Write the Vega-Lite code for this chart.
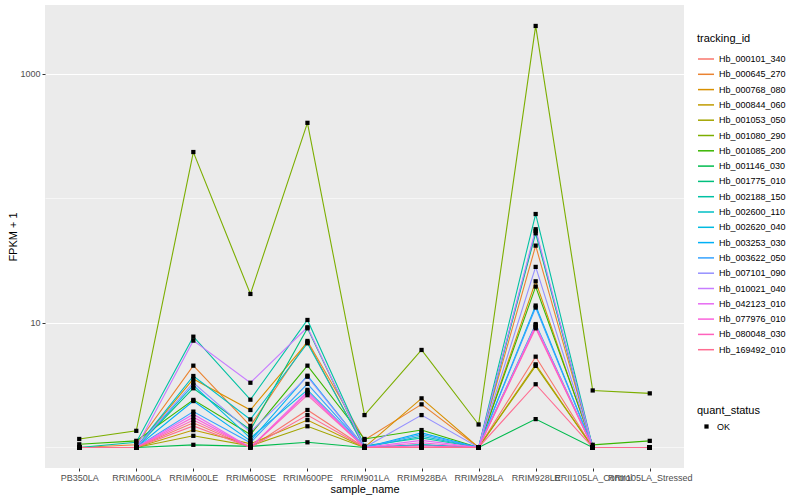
{
"$schema": "https://vega.github.io/schema/vega-lite/v6.json",
"autosize": {"type": "none"},
"width": 639,
"height": 463,
"padding": {"left": 45, "top": 5, "right": 116, "bottom": 32},
"background": "white",
"config": {
  "view": {"fill": "#EBEBEB", "stroke": null},
  "font": "Liberation Sans",
  "axis": {"domain": false, "tickColor": "#333333", "tickSize": 3, "tickWidth": 1, "labelColor": "#4D4D4D", "labelFontSize": 9, "labelPadding": 2, "titleFontSize": 11, "titleFontWeight": "normal", "titleColor": "black", "gridColor": "white", "gridWidth": 1.1},
  "legend": {"titleFontSize": 11, "titleFontWeight": "normal", "titleColor": "black", "labelFontSize": 9, "labelColor": "black", "padding": 0, "rowPadding": 1.3, "labelOffset": 4, "titlePadding": 6}
},
"data": {"values": [
{"tracking_id":"Hb_000101_340","sample_name":"PB350LA","fpkm_plus_1":1,"quant_status":"OK"},
{"tracking_id":"Hb_000101_340","sample_name":"RRIM600LA","fpkm_plus_1":1,"quant_status":"OK"},
{"tracking_id":"Hb_000101_340","sample_name":"RRIM600LE","fpkm_plus_1":1.58,"quant_status":"OK"},
{"tracking_id":"Hb_000101_340","sample_name":"RRIM600SE","fpkm_plus_1":1,"quant_status":"OK"},
{"tracking_id":"Hb_000101_340","sample_name":"RRIM600PE","fpkm_plus_1":2.0,"quant_status":"OK"},
{"tracking_id":"Hb_000101_340","sample_name":"RRIM901LA","fpkm_plus_1":1,"quant_status":"OK"},
{"tracking_id":"Hb_000101_340","sample_name":"RRIM928BA","fpkm_plus_1":1,"quant_status":"OK"},
{"tracking_id":"Hb_000101_340","sample_name":"RRIM928LA","fpkm_plus_1":1,"quant_status":"OK"},
{"tracking_id":"Hb_000101_340","sample_name":"RRIM928LE","fpkm_plus_1":5.36,"quant_status":"OK"},
{"tracking_id":"Hb_000101_340","sample_name":"RRII105LA_Control","fpkm_plus_1":1,"quant_status":"OK"},
{"tracking_id":"Hb_000101_340","sample_name":"RRII105LA_Stressed","fpkm_plus_1":1,"quant_status":"OK"},
{"tracking_id":"Hb_000645_270","sample_name":"PB350LA","fpkm_plus_1":1,"quant_status":"OK"},
{"tracking_id":"Hb_000645_270","sample_name":"RRIM600LA","fpkm_plus_1":1.05,"quant_status":"OK"},
{"tracking_id":"Hb_000645_270","sample_name":"RRIM600LE","fpkm_plus_1":4.54,"quant_status":"OK"},
{"tracking_id":"Hb_000645_270","sample_name":"RRIM600SE","fpkm_plus_1":1.49,"quant_status":"OK"},
{"tracking_id":"Hb_000645_270","sample_name":"RRIM600PE","fpkm_plus_1":7.17,"quant_status":"OK"},
{"tracking_id":"Hb_000645_270","sample_name":"RRIM901LA","fpkm_plus_1":1.15,"quant_status":"OK"},
{"tracking_id":"Hb_000645_270","sample_name":"RRIM928BA","fpkm_plus_1":2.22,"quant_status":"OK"},
{"tracking_id":"Hb_000645_270","sample_name":"RRIM928LA","fpkm_plus_1":1,"quant_status":"OK"},
{"tracking_id":"Hb_000645_270","sample_name":"RRIM928LE","fpkm_plus_1":41.8,"quant_status":"OK"},
{"tracking_id":"Hb_000645_270","sample_name":"RRII105LA_Control","fpkm_plus_1":1,"quant_status":"OK"},
{"tracking_id":"Hb_000645_270","sample_name":"RRII105LA_Stressed","fpkm_plus_1":1,"quant_status":"OK"},
{"tracking_id":"Hb_000768_080","sample_name":"PB350LA","fpkm_plus_1":1,"quant_status":"OK"},
{"tracking_id":"Hb_000768_080","sample_name":"RRIM600LA","fpkm_plus_1":1,"quant_status":"OK"},
{"tracking_id":"Hb_000768_080","sample_name":"RRIM600LE","fpkm_plus_1":3.55,"quant_status":"OK"},
{"tracking_id":"Hb_000768_080","sample_name":"RRIM600SE","fpkm_plus_1":2.0,"quant_status":"OK"},
{"tracking_id":"Hb_000768_080","sample_name":"RRIM600PE","fpkm_plus_1":7.0,"quant_status":"OK"},
{"tracking_id":"Hb_000768_080","sample_name":"RRIM901LA","fpkm_plus_1":1,"quant_status":"OK"},
{"tracking_id":"Hb_000768_080","sample_name":"RRIM928BA","fpkm_plus_1":2.48,"quant_status":"OK"},
{"tracking_id":"Hb_000768_080","sample_name":"RRIM928LA","fpkm_plus_1":1,"quant_status":"OK"},
{"tracking_id":"Hb_000768_080","sample_name":"RRIM928LE","fpkm_plus_1":21.6,"quant_status":"OK"},
{"tracking_id":"Hb_000768_080","sample_name":"RRII105LA_Control","fpkm_plus_1":1,"quant_status":"OK"},
{"tracking_id":"Hb_000768_080","sample_name":"RRII105LA_Stressed","fpkm_plus_1":1,"quant_status":"OK"},
{"tracking_id":"Hb_000844_060","sample_name":"PB350LA","fpkm_plus_1":1,"quant_status":"OK"},
{"tracking_id":"Hb_000844_060","sample_name":"RRIM600LA","fpkm_plus_1":1,"quant_status":"OK"},
{"tracking_id":"Hb_000844_060","sample_name":"RRIM600LE","fpkm_plus_1":1.38,"quant_status":"OK"},
{"tracking_id":"Hb_000844_060","sample_name":"RRIM600SE","fpkm_plus_1":1.07,"quant_status":"OK"},
{"tracking_id":"Hb_000844_060","sample_name":"RRIM600PE","fpkm_plus_1":1.66,"quant_status":"OK"},
{"tracking_id":"Hb_000844_060","sample_name":"RRIM901LA","fpkm_plus_1":1,"quant_status":"OK"},
{"tracking_id":"Hb_000844_060","sample_name":"RRIM928BA","fpkm_plus_1":1,"quant_status":"OK"},
{"tracking_id":"Hb_000844_060","sample_name":"RRIM928LA","fpkm_plus_1":1,"quant_status":"OK"},
{"tracking_id":"Hb_000844_060","sample_name":"RRIM928LE","fpkm_plus_1":4.65,"quant_status":"OK"},
{"tracking_id":"Hb_000844_060","sample_name":"RRII105LA_Control","fpkm_plus_1":1,"quant_status":"OK"},
{"tracking_id":"Hb_000844_060","sample_name":"RRII105LA_Stressed","fpkm_plus_1":1,"quant_status":"OK"},
{"tracking_id":"Hb_001053_050","sample_name":"PB350LA","fpkm_plus_1":1,"quant_status":"OK"},
{"tracking_id":"Hb_001053_050","sample_name":"RRIM600LA","fpkm_plus_1":1,"quant_status":"OK"},
{"tracking_id":"Hb_001053_050","sample_name":"RRIM600LE","fpkm_plus_1":1.24,"quant_status":"OK"},
{"tracking_id":"Hb_001053_050","sample_name":"RRIM600SE","fpkm_plus_1":1.03,"quant_status":"OK"},
{"tracking_id":"Hb_001053_050","sample_name":"RRIM600PE","fpkm_plus_1":1.48,"quant_status":"OK"},
{"tracking_id":"Hb_001053_050","sample_name":"RRIM901LA","fpkm_plus_1":1,"quant_status":"OK"},
{"tracking_id":"Hb_001053_050","sample_name":"RRIM928BA","fpkm_plus_1":1,"quant_status":"OK"},
{"tracking_id":"Hb_001053_050","sample_name":"RRIM928LA","fpkm_plus_1":1,"quant_status":"OK"},
{"tracking_id":"Hb_001053_050","sample_name":"RRIM928LE","fpkm_plus_1":4.52,"quant_status":"OK"},
{"tracking_id":"Hb_001053_050","sample_name":"RRII105LA_Control","fpkm_plus_1":1,"quant_status":"OK"},
{"tracking_id":"Hb_001053_050","sample_name":"RRII105LA_Stressed","fpkm_plus_1":1,"quant_status":"OK"},
{"tracking_id":"Hb_001080_290","sample_name":"PB350LA","fpkm_plus_1":1.17,"quant_status":"OK"},
{"tracking_id":"Hb_001080_290","sample_name":"RRIM600LA","fpkm_plus_1":1.36,"quant_status":"OK"},
{"tracking_id":"Hb_001080_290","sample_name":"RRIM600LE","fpkm_plus_1":236,"quant_status":"OK"},
{"tracking_id":"Hb_001080_290","sample_name":"RRIM600SE","fpkm_plus_1":17.1,"quant_status":"OK"},
{"tracking_id":"Hb_001080_290","sample_name":"RRIM600PE","fpkm_plus_1":405,"quant_status":"OK"},
{"tracking_id":"Hb_001080_290","sample_name":"RRIM901LA","fpkm_plus_1":1.82,"quant_status":"OK"},
{"tracking_id":"Hb_001080_290","sample_name":"RRIM928BA","fpkm_plus_1":6.07,"quant_status":"OK"},
{"tracking_id":"Hb_001080_290","sample_name":"RRIM928LA","fpkm_plus_1":1.53,"quant_status":"OK"},
{"tracking_id":"Hb_001080_290","sample_name":"RRIM928LE","fpkm_plus_1":2430,"quant_status":"OK"},
{"tracking_id":"Hb_001080_290","sample_name":"RRII105LA_Control","fpkm_plus_1":2.87,"quant_status":"OK"},
{"tracking_id":"Hb_001080_290","sample_name":"RRII105LA_Stressed","fpkm_plus_1":2.72,"quant_status":"OK"},
{"tracking_id":"Hb_001085_200","sample_name":"PB350LA","fpkm_plus_1":1.06,"quant_status":"OK"},
{"tracking_id":"Hb_001085_200","sample_name":"RRIM600LA","fpkm_plus_1":1.13,"quant_status":"OK"},
{"tracking_id":"Hb_001085_200","sample_name":"RRIM600LE","fpkm_plus_1":2.41,"quant_status":"OK"},
{"tracking_id":"Hb_001085_200","sample_name":"RRIM600SE","fpkm_plus_1":1.27,"quant_status":"OK"},
{"tracking_id":"Hb_001085_200","sample_name":"RRIM600PE","fpkm_plus_1":4.54,"quant_status":"OK"},
{"tracking_id":"Hb_001085_200","sample_name":"RRIM901LA","fpkm_plus_1":1.17,"quant_status":"OK"},
{"tracking_id":"Hb_001085_200","sample_name":"RRIM928BA","fpkm_plus_1":1.38,"quant_status":"OK"},
{"tracking_id":"Hb_001085_200","sample_name":"RRIM928LA","fpkm_plus_1":1,"quant_status":"OK"},
{"tracking_id":"Hb_001085_200","sample_name":"RRIM928LE","fpkm_plus_1":19.6,"quant_status":"OK"},
{"tracking_id":"Hb_001085_200","sample_name":"RRII105LA_Control","fpkm_plus_1":1.05,"quant_status":"OK"},
{"tracking_id":"Hb_001085_200","sample_name":"RRII105LA_Stressed","fpkm_plus_1":1.13,"quant_status":"OK"},
{"tracking_id":"Hb_001146_030","sample_name":"PB350LA","fpkm_plus_1":1,"quant_status":"OK"},
{"tracking_id":"Hb_001146_030","sample_name":"RRIM600LA","fpkm_plus_1":1,"quant_status":"OK"},
{"tracking_id":"Hb_001146_030","sample_name":"RRIM600LE","fpkm_plus_1":1.05,"quant_status":"OK"},
{"tracking_id":"Hb_001146_030","sample_name":"RRIM600SE","fpkm_plus_1":1.02,"quant_status":"OK"},
{"tracking_id":"Hb_001146_030","sample_name":"RRIM600PE","fpkm_plus_1":1.1,"quant_status":"OK"},
{"tracking_id":"Hb_001146_030","sample_name":"RRIM901LA","fpkm_plus_1":1,"quant_status":"OK"},
{"tracking_id":"Hb_001146_030","sample_name":"RRIM928BA","fpkm_plus_1":1,"quant_status":"OK"},
{"tracking_id":"Hb_001146_030","sample_name":"RRIM928LA","fpkm_plus_1":1,"quant_status":"OK"},
{"tracking_id":"Hb_001146_030","sample_name":"RRIM928LE","fpkm_plus_1":1.69,"quant_status":"OK"},
{"tracking_id":"Hb_001146_030","sample_name":"RRII105LA_Control","fpkm_plus_1":1,"quant_status":"OK"},
{"tracking_id":"Hb_001146_030","sample_name":"RRII105LA_Stressed","fpkm_plus_1":1,"quant_status":"OK"},
{"tracking_id":"Hb_001775_010","sample_name":"PB350LA","fpkm_plus_1":1,"quant_status":"OK"},
{"tracking_id":"Hb_001775_010","sample_name":"RRIM600LA","fpkm_plus_1":1,"quant_status":"OK"},
{"tracking_id":"Hb_001775_010","sample_name":"RRIM600LE","fpkm_plus_1":2.99,"quant_status":"OK"},
{"tracking_id":"Hb_001775_010","sample_name":"RRIM600SE","fpkm_plus_1":1.38,"quant_status":"OK"},
{"tracking_id":"Hb_001775_010","sample_name":"RRIM600PE","fpkm_plus_1":9.06,"quant_status":"OK"},
{"tracking_id":"Hb_001775_010","sample_name":"RRIM901LA","fpkm_plus_1":1,"quant_status":"OK"},
{"tracking_id":"Hb_001775_010","sample_name":"RRIM928BA","fpkm_plus_1":1.05,"quant_status":"OK"},
{"tracking_id":"Hb_001775_010","sample_name":"RRIM928LA","fpkm_plus_1":1,"quant_status":"OK"},
{"tracking_id":"Hb_001775_010","sample_name":"RRIM928LE","fpkm_plus_1":52.5,"quant_status":"OK"},
{"tracking_id":"Hb_001775_010","sample_name":"RRII105LA_Control","fpkm_plus_1":1,"quant_status":"OK"},
{"tracking_id":"Hb_001775_010","sample_name":"RRII105LA_Stressed","fpkm_plus_1":1,"quant_status":"OK"},
{"tracking_id":"Hb_002188_150","sample_name":"PB350LA","fpkm_plus_1":1,"quant_status":"OK"},
{"tracking_id":"Hb_002188_150","sample_name":"RRIM600LA","fpkm_plus_1":1.1,"quant_status":"OK"},
{"tracking_id":"Hb_002188_150","sample_name":"RRIM600LE","fpkm_plus_1":7.76,"quant_status":"OK"},
{"tracking_id":"Hb_002188_150","sample_name":"RRIM600SE","fpkm_plus_1":2.42,"quant_status":"OK"},
{"tracking_id":"Hb_002188_150","sample_name":"RRIM600PE","fpkm_plus_1":10.57,"quant_status":"OK"},
{"tracking_id":"Hb_002188_150","sample_name":"RRIM901LA","fpkm_plus_1":1.03,"quant_status":"OK"},
{"tracking_id":"Hb_002188_150","sample_name":"RRIM928BA","fpkm_plus_1":1.19,"quant_status":"OK"},
{"tracking_id":"Hb_002188_150","sample_name":"RRIM928LA","fpkm_plus_1":1,"quant_status":"OK"},
{"tracking_id":"Hb_002188_150","sample_name":"RRIM928LE","fpkm_plus_1":75.0,"quant_status":"OK"},
{"tracking_id":"Hb_002188_150","sample_name":"RRII105LA_Control","fpkm_plus_1":1,"quant_status":"OK"},
{"tracking_id":"Hb_002188_150","sample_name":"RRII105LA_Stressed","fpkm_plus_1":1,"quant_status":"OK"},
{"tracking_id":"Hb_002600_110","sample_name":"PB350LA","fpkm_plus_1":1,"quant_status":"OK"},
{"tracking_id":"Hb_002600_110","sample_name":"RRIM600LA","fpkm_plus_1":1,"quant_status":"OK"},
{"tracking_id":"Hb_002600_110","sample_name":"RRIM600LE","fpkm_plus_1":3.75,"quant_status":"OK"},
{"tracking_id":"Hb_002600_110","sample_name":"RRIM600SE","fpkm_plus_1":1.68,"quant_status":"OK"},
{"tracking_id":"Hb_002600_110","sample_name":"RRIM600PE","fpkm_plus_1":6.87,"quant_status":"OK"},
{"tracking_id":"Hb_002600_110","sample_name":"RRIM901LA","fpkm_plus_1":1,"quant_status":"OK"},
{"tracking_id":"Hb_002600_110","sample_name":"RRIM928BA","fpkm_plus_1":1.23,"quant_status":"OK"},
{"tracking_id":"Hb_002600_110","sample_name":"RRIM928LA","fpkm_plus_1":1,"quant_status":"OK"},
{"tracking_id":"Hb_002600_110","sample_name":"RRIM928LE","fpkm_plus_1":54.8,"quant_status":"OK"},
{"tracking_id":"Hb_002600_110","sample_name":"RRII105LA_Control","fpkm_plus_1":1,"quant_status":"OK"},
{"tracking_id":"Hb_002600_110","sample_name":"RRII105LA_Stressed","fpkm_plus_1":1,"quant_status":"OK"},
{"tracking_id":"Hb_002620_040","sample_name":"PB350LA","fpkm_plus_1":1,"quant_status":"OK"},
{"tracking_id":"Hb_002620_040","sample_name":"RRIM600LA","fpkm_plus_1":1,"quant_status":"OK"},
{"tracking_id":"Hb_002620_040","sample_name":"RRIM600LE","fpkm_plus_1":3.16,"quant_status":"OK"},
{"tracking_id":"Hb_002620_040","sample_name":"RRIM600SE","fpkm_plus_1":1.19,"quant_status":"OK"},
{"tracking_id":"Hb_002620_040","sample_name":"RRIM600PE","fpkm_plus_1":2.9,"quant_status":"OK"},
{"tracking_id":"Hb_002620_040","sample_name":"RRIM901LA","fpkm_plus_1":1,"quant_status":"OK"},
{"tracking_id":"Hb_002620_040","sample_name":"RRIM928BA","fpkm_plus_1":1.05,"quant_status":"OK"},
{"tracking_id":"Hb_002620_040","sample_name":"RRIM928LA","fpkm_plus_1":1,"quant_status":"OK"},
{"tracking_id":"Hb_002620_040","sample_name":"RRIM928LE","fpkm_plus_1":9.8,"quant_status":"OK"},
{"tracking_id":"Hb_002620_040","sample_name":"RRII105LA_Control","fpkm_plus_1":1,"quant_status":"OK"},
{"tracking_id":"Hb_002620_040","sample_name":"RRII105LA_Stressed","fpkm_plus_1":1,"quant_status":"OK"},
{"tracking_id":"Hb_003253_030","sample_name":"PB350LA","fpkm_plus_1":1,"quant_status":"OK"},
{"tracking_id":"Hb_003253_030","sample_name":"RRIM600LA","fpkm_plus_1":1,"quant_status":"OK"},
{"tracking_id":"Hb_003253_030","sample_name":"RRIM600LE","fpkm_plus_1":2.36,"quant_status":"OK"},
{"tracking_id":"Hb_003253_030","sample_name":"RRIM600SE","fpkm_plus_1":1.13,"quant_status":"OK"},
{"tracking_id":"Hb_003253_030","sample_name":"RRIM600PE","fpkm_plus_1":3.77,"quant_status":"OK"},
{"tracking_id":"Hb_003253_030","sample_name":"RRIM901LA","fpkm_plus_1":1,"quant_status":"OK"},
{"tracking_id":"Hb_003253_030","sample_name":"RRIM928BA","fpkm_plus_1":1.31,"quant_status":"OK"},
{"tracking_id":"Hb_003253_030","sample_name":"RRIM928LA","fpkm_plus_1":1,"quant_status":"OK"},
{"tracking_id":"Hb_003253_030","sample_name":"RRIM928LE","fpkm_plus_1":13.8,"quant_status":"OK"},
{"tracking_id":"Hb_003253_030","sample_name":"RRII105LA_Control","fpkm_plus_1":1,"quant_status":"OK"},
{"tracking_id":"Hb_003253_030","sample_name":"RRII105LA_Stressed","fpkm_plus_1":1,"quant_status":"OK"},
{"tracking_id":"Hb_003622_050","sample_name":"PB350LA","fpkm_plus_1":1,"quant_status":"OK"},
{"tracking_id":"Hb_003622_050","sample_name":"RRIM600LA","fpkm_plus_1":1,"quant_status":"OK"},
{"tracking_id":"Hb_003622_050","sample_name":"RRIM600LE","fpkm_plus_1":1.94,"quant_status":"OK"},
{"tracking_id":"Hb_003622_050","sample_name":"RRIM600SE","fpkm_plus_1":1.09,"quant_status":"OK"},
{"tracking_id":"Hb_003622_050","sample_name":"RRIM600PE","fpkm_plus_1":3.24,"quant_status":"OK"},
{"tracking_id":"Hb_003622_050","sample_name":"RRIM901LA","fpkm_plus_1":1,"quant_status":"OK"},
{"tracking_id":"Hb_003622_050","sample_name":"RRIM928BA","fpkm_plus_1":1.27,"quant_status":"OK"},
{"tracking_id":"Hb_003622_050","sample_name":"RRIM928LA","fpkm_plus_1":1,"quant_status":"OK"},
{"tracking_id":"Hb_003622_050","sample_name":"RRIM928LE","fpkm_plus_1":13.3,"quant_status":"OK"},
{"tracking_id":"Hb_003622_050","sample_name":"RRII105LA_Control","fpkm_plus_1":1,"quant_status":"OK"},
{"tracking_id":"Hb_003622_050","sample_name":"RRII105LA_Stressed","fpkm_plus_1":1,"quant_status":"OK"},
{"tracking_id":"Hb_007101_090","sample_name":"PB350LA","fpkm_plus_1":1,"quant_status":"OK"},
{"tracking_id":"Hb_007101_090","sample_name":"RRIM600LA","fpkm_plus_1":1,"quant_status":"OK"},
{"tracking_id":"Hb_007101_090","sample_name":"RRIM600LE","fpkm_plus_1":3.31,"quant_status":"OK"},
{"tracking_id":"Hb_007101_090","sample_name":"RRIM600SE","fpkm_plus_1":1.33,"quant_status":"OK"},
{"tracking_id":"Hb_007101_090","sample_name":"RRIM600PE","fpkm_plus_1":3.7,"quant_status":"OK"},
{"tracking_id":"Hb_007101_090","sample_name":"RRIM901LA","fpkm_plus_1":1,"quant_status":"OK"},
{"tracking_id":"Hb_007101_090","sample_name":"RRIM928BA","fpkm_plus_1":1.82,"quant_status":"OK"},
{"tracking_id":"Hb_007101_090","sample_name":"RRIM928LA","fpkm_plus_1":1,"quant_status":"OK"},
{"tracking_id":"Hb_007101_090","sample_name":"RRIM928LE","fpkm_plus_1":28.2,"quant_status":"OK"},
{"tracking_id":"Hb_007101_090","sample_name":"RRII105LA_Control","fpkm_plus_1":1,"quant_status":"OK"},
{"tracking_id":"Hb_007101_090","sample_name":"RRII105LA_Stressed","fpkm_plus_1":1,"quant_status":"OK"},
{"tracking_id":"Hb_010021_040","sample_name":"PB350LA","fpkm_plus_1":1,"quant_status":"OK"},
{"tracking_id":"Hb_010021_040","sample_name":"RRIM600LA","fpkm_plus_1":1,"quant_status":"OK"},
{"tracking_id":"Hb_010021_040","sample_name":"RRIM600LE","fpkm_plus_1":7.21,"quant_status":"OK"},
{"tracking_id":"Hb_010021_040","sample_name":"RRIM600SE","fpkm_plus_1":3.31,"quant_status":"OK"},
{"tracking_id":"Hb_010021_040","sample_name":"RRIM600PE","fpkm_plus_1":9.23,"quant_status":"OK"},
{"tracking_id":"Hb_010021_040","sample_name":"RRIM901LA","fpkm_plus_1":1,"quant_status":"OK"},
{"tracking_id":"Hb_010021_040","sample_name":"RRIM928BA","fpkm_plus_1":1,"quant_status":"OK"},
{"tracking_id":"Hb_010021_040","sample_name":"RRIM928LA","fpkm_plus_1":1,"quant_status":"OK"},
{"tracking_id":"Hb_010021_040","sample_name":"RRIM928LE","fpkm_plus_1":56.6,"quant_status":"OK"},
{"tracking_id":"Hb_010021_040","sample_name":"RRII105LA_Control","fpkm_plus_1":1,"quant_status":"OK"},
{"tracking_id":"Hb_010021_040","sample_name":"RRII105LA_Stressed","fpkm_plus_1":1,"quant_status":"OK"},
{"tracking_id":"Hb_042123_010","sample_name":"PB350LA","fpkm_plus_1":1,"quant_status":"OK"},
{"tracking_id":"Hb_042123_010","sample_name":"RRIM600LA","fpkm_plus_1":1,"quant_status":"OK"},
{"tracking_id":"Hb_042123_010","sample_name":"RRIM600LE","fpkm_plus_1":1.85,"quant_status":"OK"},
{"tracking_id":"Hb_042123_010","sample_name":"RRIM600SE","fpkm_plus_1":1,"quant_status":"OK"},
{"tracking_id":"Hb_042123_010","sample_name":"RRIM600PE","fpkm_plus_1":2.81,"quant_status":"OK"},
{"tracking_id":"Hb_042123_010","sample_name":"RRIM901LA","fpkm_plus_1":1,"quant_status":"OK"},
{"tracking_id":"Hb_042123_010","sample_name":"RRIM928BA","fpkm_plus_1":1.14,"quant_status":"OK"},
{"tracking_id":"Hb_042123_010","sample_name":"RRIM928LA","fpkm_plus_1":1,"quant_status":"OK"},
{"tracking_id":"Hb_042123_010","sample_name":"RRIM928LE","fpkm_plus_1":9.6,"quant_status":"OK"},
{"tracking_id":"Hb_042123_010","sample_name":"RRII105LA_Control","fpkm_plus_1":1,"quant_status":"OK"},
{"tracking_id":"Hb_042123_010","sample_name":"RRII105LA_Stressed","fpkm_plus_1":1,"quant_status":"OK"},
{"tracking_id":"Hb_077976_010","sample_name":"PB350LA","fpkm_plus_1":1,"quant_status":"OK"},
{"tracking_id":"Hb_077976_010","sample_name":"RRIM600LA","fpkm_plus_1":1,"quant_status":"OK"},
{"tracking_id":"Hb_077976_010","sample_name":"RRIM600LE","fpkm_plus_1":1.75,"quant_status":"OK"},
{"tracking_id":"Hb_077976_010","sample_name":"RRIM600SE","fpkm_plus_1":1,"quant_status":"OK"},
{"tracking_id":"Hb_077976_010","sample_name":"RRIM600PE","fpkm_plus_1":2.73,"quant_status":"OK"},
{"tracking_id":"Hb_077976_010","sample_name":"RRIM901LA","fpkm_plus_1":1,"quant_status":"OK"},
{"tracking_id":"Hb_077976_010","sample_name":"RRIM928BA","fpkm_plus_1":1.09,"quant_status":"OK"},
{"tracking_id":"Hb_077976_010","sample_name":"RRIM928LA","fpkm_plus_1":1,"quant_status":"OK"},
{"tracking_id":"Hb_077976_010","sample_name":"RRIM928LE","fpkm_plus_1":9.3,"quant_status":"OK"},
{"tracking_id":"Hb_077976_010","sample_name":"RRII105LA_Control","fpkm_plus_1":1,"quant_status":"OK"},
{"tracking_id":"Hb_077976_010","sample_name":"RRII105LA_Stressed","fpkm_plus_1":1,"quant_status":"OK"},
{"tracking_id":"Hb_080048_030","sample_name":"PB350LA","fpkm_plus_1":1,"quant_status":"OK"},
{"tracking_id":"Hb_080048_030","sample_name":"RRIM600LA","fpkm_plus_1":1,"quant_status":"OK"},
{"tracking_id":"Hb_080048_030","sample_name":"RRIM600LE","fpkm_plus_1":1.66,"quant_status":"OK"},
{"tracking_id":"Hb_080048_030","sample_name":"RRIM600SE","fpkm_plus_1":1,"quant_status":"OK"},
{"tracking_id":"Hb_080048_030","sample_name":"RRIM600PE","fpkm_plus_1":2.63,"quant_status":"OK"},
{"tracking_id":"Hb_080048_030","sample_name":"RRIM901LA","fpkm_plus_1":1,"quant_status":"OK"},
{"tracking_id":"Hb_080048_030","sample_name":"RRIM928BA","fpkm_plus_1":1.03,"quant_status":"OK"},
{"tracking_id":"Hb_080048_030","sample_name":"RRIM928LA","fpkm_plus_1":1,"quant_status":"OK"},
{"tracking_id":"Hb_080048_030","sample_name":"RRIM928LE","fpkm_plus_1":9.06,"quant_status":"OK"},
{"tracking_id":"Hb_080048_030","sample_name":"RRII105LA_Control","fpkm_plus_1":1,"quant_status":"OK"},
{"tracking_id":"Hb_080048_030","sample_name":"RRII105LA_Stressed","fpkm_plus_1":1,"quant_status":"OK"},
{"tracking_id":"Hb_169492_010","sample_name":"PB350LA","fpkm_plus_1":1,"quant_status":"OK"},
{"tracking_id":"Hb_169492_010","sample_name":"RRIM600LA","fpkm_plus_1":1,"quant_status":"OK"},
{"tracking_id":"Hb_169492_010","sample_name":"RRIM600LE","fpkm_plus_1":1.49,"quant_status":"OK"},
{"tracking_id":"Hb_169492_010","sample_name":"RRIM600SE","fpkm_plus_1":1,"quant_status":"OK"},
{"tracking_id":"Hb_169492_010","sample_name":"RRIM600PE","fpkm_plus_1":1.82,"quant_status":"OK"},
{"tracking_id":"Hb_169492_010","sample_name":"RRIM901LA","fpkm_plus_1":1,"quant_status":"OK"},
{"tracking_id":"Hb_169492_010","sample_name":"RRIM928BA","fpkm_plus_1":1,"quant_status":"OK"},
{"tracking_id":"Hb_169492_010","sample_name":"RRIM928LA","fpkm_plus_1":1,"quant_status":"OK"},
{"tracking_id":"Hb_169492_010","sample_name":"RRIM928LE","fpkm_plus_1":3.22,"quant_status":"OK"},
{"tracking_id":"Hb_169492_010","sample_name":"RRII105LA_Control","fpkm_plus_1":1,"quant_status":"OK"},
{"tracking_id":"Hb_169492_010","sample_name":"RRII105LA_Stressed","fpkm_plus_1":1,"quant_status":"OK"}
]},
"encoding": {
  "x": {"field": "sample_name", "type": "nominal",
        "sort": ["PB350LA","RRIM600LA","RRIM600LE","RRIM600SE","RRIM600PE","RRIM901LA","RRIM928BA","RRIM928LA","RRIM928LE","RRII105LA_Control","RRII105LA_Stressed"],
        "scale": {"type": "point", "padding": 0.6},
        "axis": {"labelAngle": 0, "title": "sample_name", "titlePadding": 1, "gridWidth": 1.1}},
  "y": {"field": "fpkm_plus_1", "type": "quantitative",
        "scale": {"type": "log", "domain": [0.684, 3580], "nice": false, "zero": false},
        "axis": {"title": "FPKM + 1", "titlePadding": 1, "values": [1, 10, 100, 1000], "format": "d",
                 "labelExpr": "datum.value == 10 || datum.value == 1000 ? datum.label : ''",
                 "gridWidth": {"condition": {"test": "datum.value == 10 || datum.value == 1000", "value": 1.1}, "value": 0.55},
                 "tickOpacity": {"condition": {"test": "datum.value == 10 || datum.value == 1000", "value": 1}, "value": 0}}}
},
"layer": [
  {"mark": {"type": "line", "strokeWidth": 1.1},
   "encoding": {"color": {"field": "tracking_id", "type": "nominal",
      "scale": {"domain": ["Hb_000101_340","Hb_000645_270","Hb_000768_080","Hb_000844_060","Hb_001053_050","Hb_001080_290","Hb_001085_200","Hb_001146_030","Hb_001775_010","Hb_002188_150","Hb_002600_110","Hb_002620_040","Hb_003253_030","Hb_003622_050","Hb_007101_090","Hb_010021_040","Hb_042123_010","Hb_077976_010","Hb_080048_030","Hb_169492_010"],
                "range": ["#F8766D","#EA8331","#D89000","#C09B00","#A3A500","#7CAE00","#39B600","#00BB4E","#00BF7D","#00C1A3","#00BFC4","#00BAE0","#00B0F6","#35A2FF","#9590FF","#C77CFF","#E76BF3","#FA62DB","#FF62BC","#FF6C91"]},
      "legend": {"title": "tracking_id", "orient": "none", "legendX": 652, "legendY": 28, "symbolType": "stroke", "symbolSize": 256, "symbolStrokeWidth": 1.5}}}},
  {"mark": {"type": "point", "filled": true, "size": 18, "opacity": 1},
   "encoding": {"color": {"value": "black"},
      "shape": {"field": "quant_status", "type": "nominal", "scale": {"range": ["square"]},
        "legend": {"title": "quant_status", "orient": "none", "legendX": 652, "legendY": 400, "symbolSize": 18, "symbolFillColor": "black", "symbolStrokeColor": "black", "symbolOffset": 5, "labelOffset": 6}}}}
]
}
